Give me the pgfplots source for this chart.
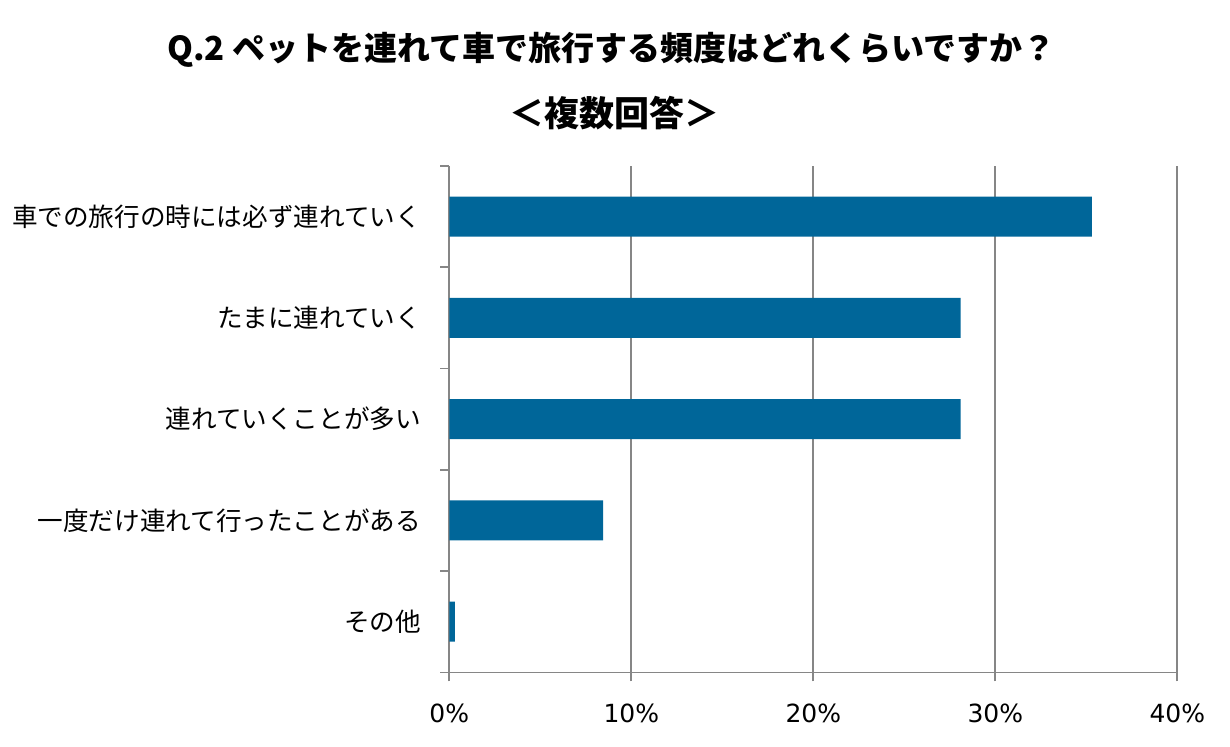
\documentclass[border=0pt]{standalone}
\usepackage{fontspec}
\usepackage{pgfplots}
\pgfplotsset{compat=1.18}
\setmainfont{DejaVu Sans}
\newfontfamily\cjk{Noto Sans CJK JP}
\definecolor{barblue}{HTML}{006699}
\definecolor{gridgray}{HTML}{868686}

\begin{document}
\begin{tikzpicture}
    % 1 px of the reference = 0.5pt
    \useasboundingbox (-224.65pt,-36.85pt) rectangle (390.35pt,336.15pt);
    \begin{axis}[
        at={(0,0)}, anchor=south west,
        scale only axis,
        width=364pt, height=253.15pt,
        xbar,
        bar width=20pt,
        xmin=0, xmax=40,
        ymin=0.5, ymax=5.5,
        y dir=reverse,
        xtick={0,10,20,30,40},
        xticklabel={\pgfmathprintnumber{\tick}\%},
        % tick marks sit between categories, labels are moved down half a slot
        ytick={0.5,1.5,2.5,3.5,4.5},
        yticklabels={車での旅行の時には必ず連れていく,たまに連れていく,連れていくことが多い,一度だけ連れて行ったことがある,その他},
        extra y ticks={5.5},
        extra y tick labels={},
        axis x line*=bottom,
        axis y line*=left,
        axis line style={gridgray, line width=0.8pt},
        xmajorgrids,
        major grid style={gridgray, line width=0.8pt},
        tick align=outside,
        tick style={gridgray, line width=0.8pt},
        major tick length=4.5pt,
        yticklabel style={font=\cjk\fontsize{12.8}{14}\selectfont, inner sep=0pt, anchor=east, xshift=-9.5pt, yshift=-25.315pt},
        xticklabel style={font=\fontsize{12.5}{14}\selectfont, inner sep=0pt, anchor=north, yshift=-11pt},
        /pgf/number format/assume math mode=true,
        clip=false,
    ]
        \addplot[fill=barblue, draw=none] coordinates {
            (35.3,1)
            (28.1,2)
            (28.1,3)
            (8.45,4)
            (0.3,5)
        };
    \end{axis}
    \node[font=\cjk\bfseries\fontsize{16.5}{20}\selectfont] at (81.1pt,311.15pt) {Q.2 ペットを連れて車で旅行する頻度はどれくらいですか？};
    \node[font=\cjk\bfseries\fontsize{17.5}{20}\selectfont] at (82.35pt,279.65pt) {＜複数回答＞};
\end{tikzpicture}
\end{document}
